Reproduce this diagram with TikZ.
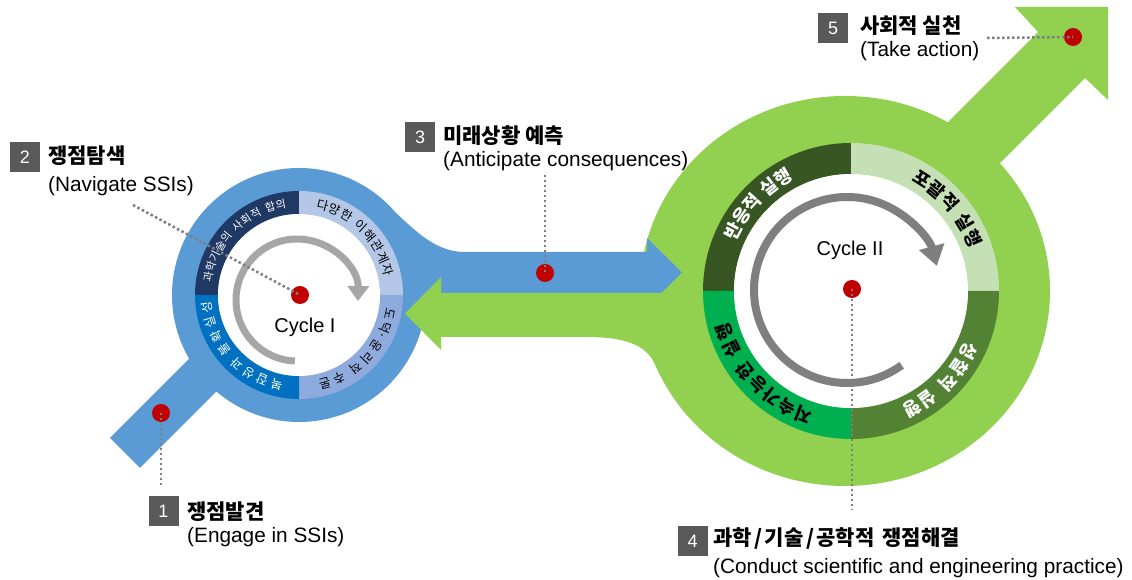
\documentclass[tikz,border=0pt]{standalone}
\usepackage{fontspec}
\setmainfont{Noto Sans CJK KR}
\newfontfamily\latinfont{Liberation Sans}
\usetikzlibrary{calc,arrows.meta}
\definecolor{bblue}{HTML}{5B9BD5}
\definecolor{bgreen}{HTML}{92D050}
\definecolor{ringIa}{HTML}{203864}
\definecolor{ringIb}{HTML}{B4C7E7}
\definecolor{ringIc}{HTML}{8FAADC}
\definecolor{ringId}{HTML}{0070C0}
\definecolor{ringIIa}{HTML}{375623}
\definecolor{ringIIb}{HTML}{C5E0B4}
\definecolor{ringIIc}{HTML}{548235}
\definecolor{ringIId}{HTML}{00B050}
\definecolor{boxgray}{HTML}{595959}
\definecolor{dotgray}{HTML}{7F7F7F}
\definecolor{reddot}{HTML}{C00000}
\definecolor{arcI}{HTML}{A6A6A6}
\definecolor{arcII}{HTML}{7F7F7F}

\newcommand{\arcchars}[4]{%
  \foreach \myang/\mych in {#4} {%
    \node[#3, rotate=\myang-90] at ($(#1)+(\myang:#2)$) {\mych};%
  }%
}
\newcommand{\annsector}[6]{%
  \fill[#1] ($(#2)+(#3:#6)$) arc[start angle=#3, end angle=#4, radius=#6]
    -- ($(#2)+(#4:#5)$) arc[start angle=#4, end angle=#3, radius=#5] -- cycle;%
}
\newcommand{\slsh}{\kern2.5pt/\kern2.5pt}

\begin{document}
\begin{tikzpicture}[x=1pt,y=1pt,
  rIsmall/.style={inner sep=0pt, font=\fontsize{11}{11}\selectfont},
  rI/.style={inner sep=0pt, font=\fontsize{12.5}{12.5}\selectfont},
  rII/.style={inner sep=0pt, font=\bfseries\fontsize{18}{18}\selectfont},
  numbox/.style={fill=boxgray, text=white, minimum size=30pt, inner sep=0pt, font=\latinfont\fontsize{18}{18}\selectfont},
  krlabel/.style={anchor=west, inner sep=0pt, font=\bfseries\fontsize{21}{21}\selectfont},
  enlabel/.style={anchor=west, inner sep=0pt, font=\latinfont\fontsize{20.8}{20.8}\selectfont},
  reddotnode/.style={circle, fill=reddot, minimum size=18pt, inner sep=0pt},
  dotline/.style={dotgray, line width=2.5pt, dash pattern=on 2.5pt off 2.5pt},
  cyclelabel/.style={inner sep=0pt, font=\latinfont\fontsize{20}{20}\selectfont}]
\useasboundingbox (0,0) rectangle (1132,580);
\coordinate (c1) at (299,285);
\coordinate (c2) at (851,289);
\coordinate (g2) at (845,289);
\coordinate (o1) at (297,280);
\coordinate (o2) at (847,290);

% ---------- blue disk and tail ----------
\fill[bblue] (c1) circle (127);
\fill[bblue] (110,142) -- (140,112) -- (294,266) -- (264,296) -- cycle;

% ---------- green disk, flare, big arrow ----------
\fill[bgreen] (g2) ellipse [x radius=205, y radius=195];
\fill[bgreen] (585,265) -- (585,243) .. controls (625,243) and (646,236) .. (656,214)
   -- (g2) -- cycle;
\fill[bgreen] (745,255) -- (1038,548) -- (1015,573) -- (1108,573) -- (1108,480)
   -- (1085,502) -- (791.5,208.5) -- cycle;

% ---------- blue arrow (to the right) ----------
\fill[bblue] (c1) -- ($(c1)+(40:127)$) .. controls (415,350) and (435,328) .. (465,328)
   -- (647,328) -- (647,342) -- (682,307.5) -- (647,273) -- (647,287) -- (400,287) -- cycle;

% ---------- green arrow (to the left) ----------
\fill[bgreen] (700,287) -- (441,287) -- (441,303) -- (405,266.5) -- (441,230)
   -- (441,243) -- (700,243) -- cycle;

% ---------- ring I ----------
\annsector{ringIa}{c1}{180}{90}{81}{104}
\annsector{ringIb}{c1}{90}{0}{81}{104}
\annsector{ringIc}{c1}{0}{-90}{81}{104}
\annsector{ringId}{c1}{-90}{-180}{81}{104}
\fill[white] (c1) circle (81);

\arcchars{c1}{92.5}{rIsmall, text=white}{168.6/과,161.8/학,155/기,148.2/술,141.4/의,131.6/사,124.8/회,118/적,108.2/합,101.4/의}
\arcchars{c1}{92.5}{rI, text=black}{75.2/다,67.2/양,59.1/한,48/이,40/해,32/관,24/계,16/자}
\arcchars{c1}{92.5}{rI, text=black}{-12.2/도,-22.5/덕·,-33.6/윤,-42.9/리,-52.2/적,-64.5/추,-73.8/론}
\arcchars{c1}{92.5}{rI, text=white}{-104/복,-113.3/잡,-122.6/성,-131.9/과,-144.2/불,-153.5/확,-162.8/실,-172.1/성}

% ---------- ring II ----------
\annsector{ringIIa}{c2}{180}{90}{117}{148}
\annsector{ringIIb}{c2}{90}{0}{117}{148}
\annsector{ringIIc}{c2}{0}{-90}{117}{148}
\annsector{ringIId}{c2}{-90}{-180}{117}{148}
\fill[white] (c2) circle (117);

\arcchars{c2}{132.5}{rII, text=white}{152.9/반,145.6/응,138.3/적,128.1/실,120.8/행}
\arcchars{c2}{132.5}{rII, text=black}{57.7/포,49.8/괄,41.9/적,31.1/실,23.2/행}
\arcchars{c2}{132.5}{rII, text=white}{-27/성,-35.1/찰,-43.2/적,-54.4/실,-62.5/행}
\arcchars{c2}{132.5}{rII, text=black}{-110.9/지,-118.9/속,-126.9/가,-134.9/능,-142.9/한,-154/실,-162/행}

% ---------- cycle arrows ----------
\draw[arcI, line width=7pt, -{Triangle[width=21pt,length=15pt]}]
  ($(o1)+(-92:61)$) arc[start angle=-92, end angle=-361, radius=61];
\draw[arcII, line width=8pt, -{Triangle[width=25pt,length=20pt]}]
  ($(o2)+(-54:93)$) arc[start angle=-54, end angle=-345, radius=93];

\node[cyclelabel] (cyI) at (305,253) {Cycle I};
\node[cyclelabel] (cyII) at (850,330) {Cycle II};

% ---------- red dots ----------
\node[reddotnode] (p1) at (161,167) {};
\node[reddotnode] (p2) at (300,285) {};
\node[reddotnode] (p3) at (545,307) {};
\node[reddotnode] (p4) at (852,291) {};
\node[reddotnode] (p5) at (1073,543) {};

% ---------- dotted leaders ----------
\coordinate (e1) at (161,95);
\coordinate (e2) at (133,375);
\coordinate (e3) at (545,405);
\coordinate (e4) at (852,70);
\coordinate (e5) at (987,542);
\draw[dotline] (p1.center) -- (e1);
\draw[dotline] (e2) -- (p2.center);
\draw[dotline] (e3) -- (p3.center);
\draw[dotline] (p4.center) -- (e4);
\draw[dotline] (e5) -- (p5.center);

% ---------- labels ----------
\node[numbox] (b1) at (163.5,68.5) {1};
\node[krlabel] (t1a) at (187,68) {쟁점발견};
\node[enlabel] (t1b) at (187,42.5) {(Engage in SSIs)};

\node[numbox] (b2) at (25,423) {2};
\node[krlabel] (t2a) at (48,424) {쟁점탐색};
\node[enlabel] (t2b) at (48,394) {(Navigate SSIs)};

\node[numbox] (b3) at (420,443) {3};
\node[krlabel] (t3a) at (443,444) {미래상황 예측};
\node[enlabel] (t3b) at (443,418.5) {(Anticipate consequences)};

\node[numbox] (b4) at (692.5,39) {4};
\node[krlabel] (t4a) at (713,41) {과학\slsh 기술\slsh 공학적\hspace{8pt}쟁점해결};
\node[enlabel] (t4b) at (713,12) {(Conduct scientific and engineering practice)};

\node[numbox] (b5) at (833,552) {5};
\node[krlabel] (t5a) at (860,554) {사회적 실천};
\node[enlabel] (t5b) at (860,529) {(Take action)};
\end{tikzpicture}
\end{document}
